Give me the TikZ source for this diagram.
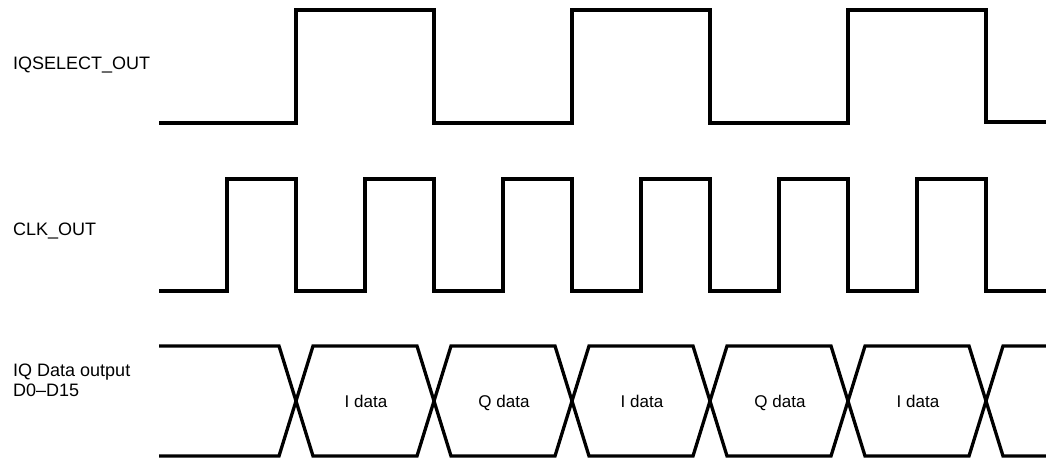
\documentclass[tikz,border=0pt]{standalone}
\usepackage{fontspec}
\setmainfont{Liberation Sans}
\begin{document}
\begin{tikzpicture}[x=1pt,y=-1pt,
  wave/.style={line width=3.3pt, line join=miter, black},
  siglabel/.style={inner sep=0pt, anchor=base west, font=\fontsize{18}{20}\selectfont, align=left},
  datalabel/.style={inner sep=0pt, anchor=base, font=\fontsize{17}{20}\selectfont}]
\useasboundingbox (0,0) rectangle (1046,458);
\fill[white] (0,0) rectangle (1046,458);
% labels
\node[siglabel] (lsel) at (13,69) {IQSELECT\_OUT};
\node[siglabel] (lclk) at (13,235) {CLK\_OUT};
\node[siglabel] (ldata) at (13,396) {IQ Data output\\D0–D15};
% IQSELECT
\draw[wave] (159,123) -- (296,123) -- (296,10) -- (434,10) -- (434,123) -- (572,123) -- (572,10) -- (710,10) -- (710,123) -- (848,123) -- (848,10) -- (986,10) -- (986,122) -- (1050,122);
% CLK
\draw[wave] (159,291) -- (227,291) -- (227,179) -- (296,179) -- (296,291) -- (365,291) -- (365,179) -- (434,179) -- (434,291) -- (503,291) -- (503,179) -- (572,179) -- (572,291) -- (641,291) -- (641,179) -- (710,179) -- (710,291) -- (779,291) -- (779,179) -- (848,179) -- (848,291) -- (917,291) -- (917,179) -- (986,179) -- (986,291) -- (1050,291);
% data bus
\draw[wave] (159,346) -- (279,346) -- (313,456) -- (417,456) -- (451,346) -- (555,346) -- (589,456) -- (693,456) -- (727,346) -- (831,346) -- (865,456) -- (969,456) -- (1003,346) -- (1050,346);
\draw[wave] (159,456) -- (279,456) -- (313,346) -- (417,346) -- (451,456) -- (555,456) -- (589,346) -- (693,346) -- (727,456) -- (831,456) -- (865,346) -- (969,346) -- (1003,456) -- (1050,456);
% data labels
\node[datalabel] (d1) at (366,407) {I data};
\node[datalabel] (d2) at (504,407) {Q data};
\node[datalabel] (d3) at (642,407) {I data};
\node[datalabel] (d4) at (780,407) {Q data};
\node[datalabel] (d5) at (918,407) {I data};
\end{tikzpicture}
\end{document}
